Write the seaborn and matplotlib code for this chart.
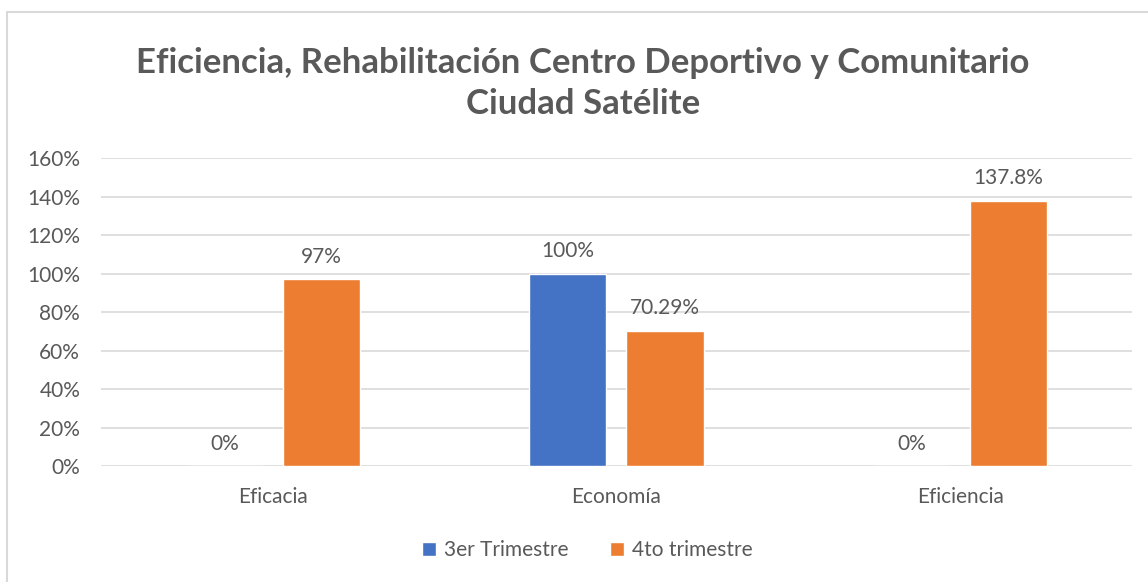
import numpy as np
import pandas as pd
import seaborn as sns
import matplotlib.pyplot as plt
from matplotlib.patches import Rectangle
from matplotlib.ticker import PercentFormatter

# Chart data
categories = ["Eficacia", "Economía", "Eficiencia"]
series_names = ["3er Trimestre", "4to trimestre"]
q3_values = [0.0, 1.0, 0.0]
q4_values = [0.97, 0.7029, 1.378]
q3_labels = ["0%", "100%", "0%"]
q4_labels = ["97%", "70.29%", "137.8%"]
colors = ["#4472C4", "#ED7D31"]

df = pd.DataFrame({
    "categoria": categories * 2,
    "serie": [series_names[0]] * 3 + [series_names[1]] * 3,
    "valor": q3_values + q4_values,
})

sns.set_theme(style="white")
plt.rcParams["font.family"] = ["Lato", "DejaVu Sans"]
text_color = "#595959"

fig = plt.figure(figsize=(11.48, 5.82), dpi=100)
ax = fig.add_axes([0.088, 0.1993, 0.898, 0.5292])

sns.barplot(data=df, x="categoria", y="valor", hue="serie", palette=colors,
            width=0.565, gap=0.206, saturation=1, ax=ax, legend=True)

ax.set_ylim(0, 1.6)
ax.set_yticks(np.arange(0, 1.61, 0.2))
ax.yaxis.set_major_formatter(PercentFormatter(1.0, decimals=0))
ax.grid(axis="y", color="#D9D9D9", linewidth=1.2)
ax.set_axisbelow(True)
for s in ax.spines.values():
    s.set_visible(False)
ax.tick_params(axis="both", length=0, labelsize=15, colors=text_color)
ax.tick_params(axis="x", pad=15)
ax.tick_params(axis="y", pad=15)
ax.set_xlabel("")
ax.set_ylabel("")

# Data labels
for cont, labs in zip(ax.containers, [q3_labels, q4_labels]):
    ax.bar_label(cont, labels=labs, padding=9, fontsize=15, color=text_color)

ax.legend(loc="center", bbox_to_anchor=(0.472, -0.273), ncol=2, frameon=False,
          fontsize=15, handlelength=0.65, handleheight=0.65, handletextpad=0.4,
          columnspacing=2.0, labelcolor=text_color)

fig.suptitle("Eficiencia, Rehabilitación Centro Deportivo y Comunitario\nCiudad Satélite",
             x=0.508, y=0.92, fontsize=25, fontweight="bold", color=text_color,
             linespacing=1.38)

# Chart area border
fig.patches.append(Rectangle((7 / 1148, -0.1), 1.2, 1 - 12 / 582 + 0.1,
                             transform=fig.transFigure, fill=False,
                             edgecolor="#D9D9D9", linewidth=1.5))

fig.savefig("out.png", dpi=100)
